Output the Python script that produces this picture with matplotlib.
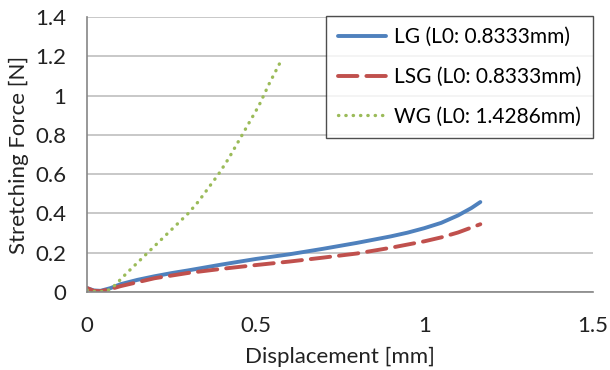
import matplotlib
matplotlib.use("Agg")
import matplotlib.pyplot as plt

plt.rcParams['font.family'] = ['Lato', 'DejaVu Sans']

# displacement [mm] / stretching force [N]
lg_x = [0.0, 0.02, 0.04, 0.07, 0.1, 0.15, 0.2, 0.25, 0.3, 0.4, 0.5, 0.6, 0.7, 0.8, 0.9, 0.95, 1.0, 1.05, 1.1, 1.14, 1.166]
lg_y = [0.02, 0.008, 0.006, 0.02, 0.04, 0.062, 0.08, 0.096, 0.11, 0.14, 0.168, 0.192, 0.22, 0.25, 0.283, 0.302, 0.325, 0.352, 0.39, 0.428, 0.458]

lsg_x = [0.0, 0.02, 0.04, 0.07, 0.1, 0.15, 0.2, 0.3, 0.4, 0.5, 0.6, 0.7, 0.8, 0.9, 1.0, 1.05, 1.1, 1.166]
lsg_y = [0.02, 0.006, 0.004, 0.015, 0.03, 0.05, 0.07, 0.097, 0.118, 0.137, 0.155, 0.175, 0.196, 0.225, 0.258, 0.278, 0.303, 0.345]

wg_x = [0.0, 0.03, 0.06, 0.08, 0.1, 0.12, 0.15, 0.18, 0.21, 0.24, 0.27, 0.3, 0.33, 0.36, 0.39, 0.42, 0.45, 0.48, 0.51, 0.54, 0.573]
wg_y = [0.01, 0.0, 0.005, 0.03, 0.065, 0.1, 0.15, 0.2, 0.25, 0.3, 0.35, 0.4, 0.46, 0.53, 0.6, 0.68, 0.77, 0.86, 0.95, 1.06, 1.17]

labels = ['LG (L0: 0.8333mm)', 'LSG (L0: 0.8333mm)', 'WG (L0: 1.4286mm)']

fig = plt.figure(figsize=(6.1, 3.7), dpi=100)
ax = fig.add_axes([87 / 610, 1 - 292 / 370, 506 / 610, 275 / 370])

ax.plot(lg_x, lg_y, color='#4f81bd', lw=2.8, solid_capstyle='round', label=labels[0])
ax.plot(lsg_x, lsg_y, color='#c0504d', lw=2.8, dashes=(5, 2.3), dash_capstyle='round', label=labels[1])
ax.plot(wg_x, wg_y, color='#9bbb59', lw=2.4, dashes=(0.1, 2.1), dash_capstyle='round', label=labels[2])

ax.set_xlim(0, 1.5)
ax.set_ylim(0, 1.4)
ax.set_xticks([0, 0.5, 1, 1.5])
ax.set_xticklabels(['0', '0.5', '1', '1.5'])
ax.set_yticks([0, 0.2, 0.4, 0.6, 0.8, 1.0, 1.2, 1.4])
ax.set_yticklabels(['0', '0.2', '0.4', '0.6', '0.8', '1', '1.2', '1.4'])
ax.tick_params(length=0, labelsize=16, colors='#222222')
ax.tick_params(axis='y', pad=15)
ax.tick_params(axis='x', pad=17)

ax.grid(axis='y', color='#bfbfbf', lw=1.2)
ax.set_axisbelow(True)
for s in ['top', 'right']:
    ax.spines[s].set_visible(False)
for s in ['left', 'bottom']:
    ax.spines[s].set_color('#868686')
    ax.spines[s].set_linewidth(1.2)

ax.set_xlabel('Displacement [mm]', fontsize=16, color='#222222', labelpad=8)
ax.set_ylabel('Stretching Force [N]', fontsize=16, color='#222222', labelpad=4)

leg = ax.legend(loc='upper right', bbox_to_anchor=(1.0, 1.005), fontsize=15, frameon=True,
                fancybox=False, edgecolor='#222222', handlelength=2.3, borderpad=0.55,
                labelspacing=0.95, handletextpad=0.4, borderaxespad=0)
leg.get_frame().set_linewidth(1.0)

fig.savefig('out.png', dpi=100)
